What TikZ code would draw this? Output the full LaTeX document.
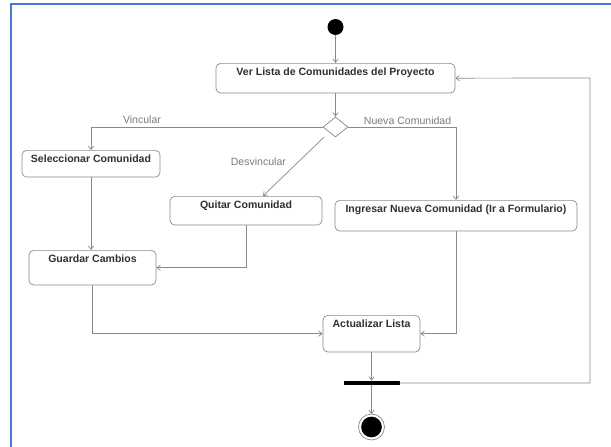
\documentclass[tikz,border=0pt]{standalone}
\usepackage{fontspec}
\setmainfont{Liberation Sans}
\usetikzlibrary{arrows.meta,positioning,shapes.geometric}
\definecolor{marco}{HTML}{4A7BD0}
\definecolor{linea}{HTML}{8A8A8A}
\definecolor{texto}{HTML}{303030}
\definecolor{gristxt}{HTML}{7A7A7A}
\tikzset{
  actividad/.style={draw=linea,line width=0.6pt,rounded corners=4pt,fill=white,
                    inner sep=0pt,text height=10pt,text=texto,anchor=north,
                    font=\fontsize{9}{11}\selectfont\bfseries},
  rombo/.style={diamond,draw=linea,line width=0.6pt,fill=white,inner sep=0pt,
                minimum width=0.75cm,minimum height=0.6cm},
  flecha/.style={-{Straight Barb[length=3pt,width=4.5pt]},line width=0.6pt,draw=linea},
  etiqueta/.style={font=\fontsize{9}{11}\selectfont,text=gristxt,inner sep=1pt},
}

\begin{document}
\begin{tikzpicture}[x=0.03cm,y=-0.03cm]
  \useasboundingbox (0,0) rectangle (611,447);

  % ---------- MARCO ----------
  \draw[marco,line width=1.6pt] (11,447) -- (11,4) -- (611,4);

  % ---------- NODOS ----------
  \node[circle,fill=black,minimum size=0.48cm,inner sep=0pt] (inicio) at (335.5,27) {};
  \node[actividad,minimum width=7.17cm,text depth=15.3pt] (verlista) at (335.5,63)
       {Ver Lista de Comunidades del Proyecto};
  \node[rombo] (decision) at (335.5,127) {};

  \node[actividad,minimum width=4.14cm,text depth=12.8pt] (seleccionar) at (91,150)
       {Seleccionar Comunidad};
  \node[actividad,minimum width=4.56cm,text depth=14.45pt] (quitar) at (246,196)
       {Quitar Comunidad};
  \node[actividad,minimum width=7.26cm,text depth=16.15pt] (ingresar) at (456,200)
       {Ingresar Nueva Comunidad (Ir a Formulario)};
  \node[actividad,minimum width=3.81cm,text depth=19.55pt] (guardar) at (92.5,250)
       {Guardar Cambios};
  \node[actividad,minimum width=2.91cm,text depth=21.25pt] (actualizar) at (371.5,315)
       {Actualizar Lista};

  \node[fill=black,minimum width=1.68cm,minimum height=3.5pt,inner sep=0pt] (barra) at (371.5,383) {};
  \node[circle,fill=black,minimum size=0.62cm,inner sep=0pt] (fin) at (371.5,427) {};
  \draw[linea,line width=0.6pt] (fin) circle (0.39cm);

  \coordinate (retorno) at (590,78);

  % ---------- FLECHAS ----------
  \draw[flecha] (inicio) -- (verlista);
  \draw[flecha] (verlista) -- (decision);
  \draw[flecha] (decision.west) -| node[etiqueta,pos=0.39,above=2pt] (lvincular) {Vincular}
       (seleccionar.north);
  \draw[flecha,shorten <=6pt] (decision.south west) --
       node[etiqueta,pos=0.47,left=9pt] (ldesvincular) {Desvincular}
       ([xshift=0.51cm]quitar.north);
  \draw[flecha] (decision.east) -| node[etiqueta,pos=0.275,above=1pt] (lnueva) {Nueva Comunidad}
       (ingresar.north);

  \draw[flecha] (seleccionar.south) -- (seleccionar.south |- guardar.north);
  \draw[flecha] (quitar.south) |- (guardar.east);
  \draw[flecha] (guardar.south) |- (actualizar.west);
  \draw[flecha] (ingresar.south) |- (actualizar.east);

  \draw[flecha] (actualizar) -- (barra);
  \draw[flecha,shorten >=2pt] (barra) -- (fin);
  \draw[flecha] (barra.east) -| (retorno) -- (verlista.east);

\end{tikzpicture}
\end{document}
